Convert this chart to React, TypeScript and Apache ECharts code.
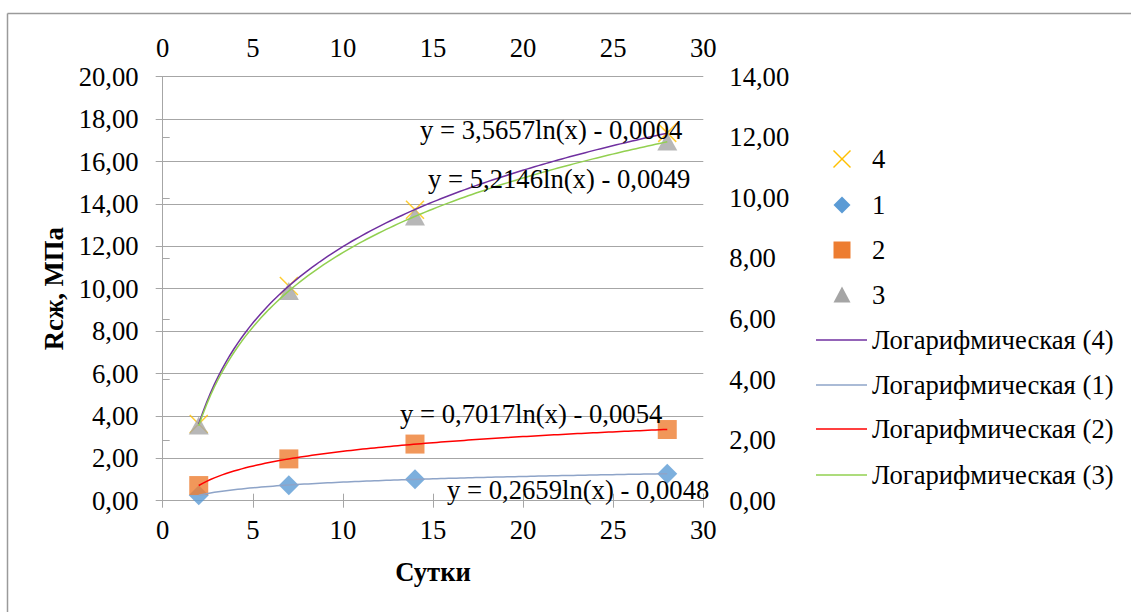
import React, { useEffect, useRef } from "react";
import * as echarts from "echarts";

// ---- data ----
const days = [2, 7, 14, 28];
const series4 = [3.62, 10.13, 13.72, 17.35]; // primary axes (bottom / left)
const series1 = [0.18, 0.51, 0.71, 0.89]; // secondary axes (top / right)
const series2 = [0.5, 1.38, 1.87, 2.35]; // secondary
const series3 = [2.48, 6.92, 9.38, 11.86]; // secondary
const pointNames = ["4", "1", "2", "3"];
const trendNames = [
  "Логарифмическая (4)",
  "Логарифмическая (1)",
  "Логарифмическая (2)",
  "Логарифмическая (3)",
];
const equationTexts = [
  "y = 3,5657ln(x) - 0,0004",
  "y = 5,2146ln(x) - 0,0049",
  "y = 0,7017ln(x) - 0,0054",
  "y = 0,2659ln(x) - 0,0048",
];
const xAxisTitle = "Сутки";
const yAxisTitle = "Rсж, МПа";

const FONT = "Liberation Serif";
const FS = 26.67;
const GRAY = "#A6A6A6";
const colors = {
  s4: "#FFC000",
  s1: "#5B9BD5",
  s2: "#ED7D31",
  s3: "#A5A5A5",
  t4: "#7030A0",
  t1: "#8EA4C8",
  t2: "#FF0000",
  t3: "#92D050",
};

// least-squares logarithmic trendline y = a ln(x) + b fitted on the data
function logTrend(xs: number[], ys: number[]): number[][] {
  const lx = xs.map(Math.log);
  const n = xs.length;
  const mx = lx.reduce((s, v) => s + v, 0) / n;
  const my = ys.reduce((s, v) => s + v, 0) / n;
  let sxy = 0;
  let sxx = 0;
  for (let i = 0; i < n; i++) {
    sxy += (lx[i] - mx) * (ys[i] - my);
    sxx += (lx[i] - mx) * (lx[i] - mx);
  }
  const a = sxy / sxx;
  const b = my - a * mx;
  const lo = Math.min(...xs);
  const hi = Math.max(...xs);
  const pts: number[][] = [];
  const steps = 120;
  for (let i = 0; i <= steps; i++) {
    const x = lo + ((hi - lo) * i) / steps;
    pts.push([x, a * Math.log(x) + b]);
  }
  return pts;
}

const pair = (ys: number[]) => days.map((d, i) => [d, ys[i]]);
const fmt2 = (v: number) => v.toFixed(2).replace(".", ",");

export default function App() {
  const ref = useRef<HTMLDivElement>(null);

  useEffect(() => {
    if (!ref.current) return;
    const chart = echarts.init(ref.current, undefined, { renderer: "svg" });

    const axisLine = { show: true, lineStyle: { color: GRAY, width: 1 } };
    const axisTick = { show: true, inside: false, length: 7, lineStyle: { color: GRAY } };
    const labelStyle = { fontFamily: FONT, fontSize: FS, color: "#000" };

    const legendItems: any[] = [];
    const lx = 842;
    const tx = 872;
    const rowsY = [159, 205, 250, 295, 340, 385, 429, 475];
    const h = 8.5;
    legendItems.push(
      { type: "line", shape: { x1: lx - h, y1: rowsY[0] - h, x2: lx + h, y2: rowsY[0] + h }, style: { stroke: colors.s4, lineWidth: 1.5 } },
      { type: "line", shape: { x1: lx + h, y1: rowsY[0] - h, x2: lx - h, y2: rowsY[0] + h }, style: { stroke: colors.s4, lineWidth: 1.5 } },
      { type: "polygon", shape: { points: [[lx, rowsY[1] - h], [lx + h, rowsY[1]], [lx, rowsY[1] + h], [lx - h, rowsY[1]]] }, style: { fill: colors.s1 } },
      { type: "rect", shape: { x: lx - h, y: rowsY[2] - h, width: 2 * h, height: 2 * h }, style: { fill: colors.s2 } },
      { type: "polygon", shape: { points: [[lx, rowsY[3] - h], [lx + h, rowsY[3] + h - 1], [lx - h, rowsY[3] + h - 1]] }, style: { fill: colors.s3 } }
    );
    const trendColors = [colors.t4, colors.t1, colors.t2, colors.t3];
    trendColors.forEach((c, i) => {
      legendItems.push({
        type: "line",
        shape: { x1: 816, y1: rowsY[4 + i], x2: 867, y2: rowsY[4 + i] },
        style: { stroke: c, lineWidth: 1.5 },
      });
    });
    const legendLabels = [...pointNames, ...trendNames];
    legendLabels.forEach((t, i) => {
      legendItems.push({
        type: "text",
        x: tx,
        y: rowsY[i],
        style: { text: t, fontFamily: FONT, fontSize: FS, fill: "#000", textVerticalAlign: "middle", textAlign: "left" },
      });
    });

    const eqPos = [
      [420, 130],
      [428, 179],
      [400, 414],
      [447, 490],
    ];
    const eqItems = equationTexts.map((t, i) => ({
      type: "text",
      x: eqPos[i][0],
      y: eqPos[i][1],
      z: 100,
      style: { text: t, fontFamily: FONT, fontSize: FS, fill: "#000", textVerticalAlign: "middle", textAlign: "left" },
    }));

    const option: any = {
      animation: false,
      backgroundColor: "#fff",
      grid: { left: 162.7, top: 76.7, right: 427.7, bottom: 111.3, containLabel: false },
      xAxis: [
        {
          type: "value",
          position: "bottom",
          min: 0,
          max: 30,
          interval: 5,
          axisLine,
          axisTick,
          splitLine: { show: false },
          axisLabel: { ...labelStyle, margin: 16 },
          name: xAxisTitle,
          nameLocation: "middle",
          nameGap: 58,
          nameTextStyle: { fontFamily: FONT, fontSize: FS, fontWeight: "bold", color: "#000" },
        },
        {
          type: "value",
          position: "top",
          min: 0,
          max: 30,
          interval: 5,
          axisLine,
          axisTick,
          splitLine: { show: false },
          axisLabel: { ...labelStyle, margin: 15 },
        },
      ],
      yAxis: [
        {
          type: "value",
          position: "left",
          min: 0,
          max: 20,
          interval: 2,
          axisLine,
          axisTick,
          splitLine: { show: true, lineStyle: { color: GRAY, width: 1 } },
          axisLabel: { ...labelStyle, margin: 24, formatter: (v: number) => fmt2(v) },
          name: yAxisTitle,
          nameLocation: "middle",
          nameGap: 95,
          nameTextStyle: { fontFamily: FONT, fontSize: FS, fontWeight: "bold", color: "#000" },
        },
        {
          type: "value",
          position: "right",
          min: 0,
          max: 14,
          interval: 2,
          axisLine,
          axisTick,
          splitLine: { show: false },
          axisLabel: { ...labelStyle, margin: 26, formatter: (v: number) => fmt2(v) },
        },
      ],
      series: [
        {
          name: pointNames[0],
          type: "scatter",
          xAxisIndex: 0,
          yAxisIndex: 0,
          data: pair(series4),
          symbol: "path://M0,0L10,10M10,0L0,10",
          symbolSize: 18,
          itemStyle: { color: "rgba(0,0,0,0)", borderColor: colors.s4, borderWidth: 1.5 },
          z: 2,
        },
        {
          name: pointNames[1],
          type: "scatter",
          xAxisIndex: 1,
          yAxisIndex: 1,
          data: pair(series1),
          symbol: "diamond",
          symbolSize: [20, 20],
          itemStyle: { color: colors.s1 },
          z: 3,
        },
        {
          name: pointNames[2],
          type: "scatter",
          xAxisIndex: 1,
          yAxisIndex: 1,
          data: pair(series2),
          symbol: "rect",
          symbolSize: [19, 19],
          itemStyle: { color: colors.s2 },
          z: 3,
        },
        {
          name: pointNames[3],
          type: "scatter",
          xAxisIndex: 1,
          yAxisIndex: 1,
          data: pair(series3),
          symbol: "triangle",
          symbolSize: [20, 18],
          itemStyle: { color: colors.s3 },
          z: 3,
        },
        {
          name: trendNames[0],
          type: "line",
          xAxisIndex: 0,
          yAxisIndex: 0,
          data: logTrend(days, series4),
          showSymbol: false,
          symbol: "none",
          lineStyle: { color: colors.t4, width: 1.5 },
          z: 4,
        },
        {
          name: trendNames[1],
          type: "line",
          xAxisIndex: 1,
          yAxisIndex: 1,
          data: logTrend(days, series1),
          showSymbol: false,
          symbol: "none",
          lineStyle: { color: colors.t1, width: 1.5 },
          z: 4,
        },
        {
          name: trendNames[2],
          type: "line",
          xAxisIndex: 1,
          yAxisIndex: 1,
          data: logTrend(days, series2),
          showSymbol: false,
          symbol: "none",
          lineStyle: { color: colors.t2, width: 1.5 },
          z: 4,
        },
        {
          name: trendNames[3],
          type: "line",
          xAxisIndex: 1,
          yAxisIndex: 1,
          data: logTrend(days, series3),
          showSymbol: false,
          symbol: "none",
          lineStyle: { color: colors.t3, width: 1.5 },
          z: 4,
        },
      ],
      graphic: [
        { type: "line", shape: { x1: 7.5, y1: 13.5, x2: 7.5, y2: 612 }, style: { stroke: "#9A9A9A", lineWidth: 1.5 } },
        { type: "line", shape: { x1: 7.5, y1: 13.5, x2: 1131, y2: 13.5 }, style: { stroke: "#9A9A9A", lineWidth: 1.5 } },
        ...legendItems,
        ...eqItems,
      ],
    };

    chart.setOption(option);
    return () => chart.dispose();
  }, []);

  return (
    <div
      ref={ref}
      style={{ position: "absolute", left: 0, top: 0, width: 1131, height: 612, background: "#fff" }}
    />
  );
}
